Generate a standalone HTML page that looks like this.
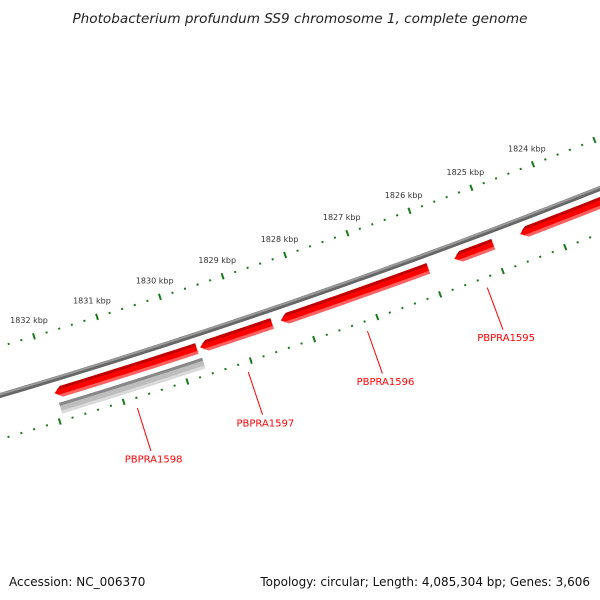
<!DOCTYPE html>
<html><head><meta charset="utf-8"><style>
html,body{margin:0;padding:0;background:#fff;}
svg{display:block;font-family:"DejaVu Sans","Liberation Sans",sans-serif;}
</style></head><body>
<svg id="map" width="600" height="600" viewBox="0 0 600 600" xmlns="http://www.w3.org/2000/svg">
<rect width="600" height="600" fill="#fff"/>
<text x="300" y="23" text-anchor="middle" font-size="13.6" font-style="italic" fill="#222">Photobacterium profundum SS9 chromosome 1, complete genome</text>
<text x="9" y="586" font-size="12" fill="#111">Accession: NC_006370</text>
<text x="590" y="586" text-anchor="end" font-size="12" fill="#111">Topology: circular; Length: 4,085,304 bp; Genes: 3,606</text>
<g id="plot"></g>
</svg>
<script>
const majorTicks = [1832, 1831, 1830, 1829, 1828, 1827, 1826, 1825, 1824];
const tickLabels = ["1832 kbp","1831 kbp","1830 kbp","1829 kbp","1828 kbp","1827 kbp","1826 kbp","1825 kbp","1824 kbp"];
const geneNames = ["PBPRA1598","PBPRA1597","PBPRA1596","PBPRA1595",""];
const geneStarts = [1829712, 1828520, 1826032, 1824992, 1821500];
const geneEnds = [1831952, 1829660, 1828384, 1825616, 1824560];
const grayStarts = [1829680];
const grayEnds = [1831930];

const NS="http://www.w3.org/2000/svg";
const g=document.getElementById('plot');
const CX=-1982, CY=-6318, R=7000;
const TH0=70.97*Math.PI/180, K=9.493e-6, BP0=1828000;
function ang(bp){return TH0+(bp-BP0)*K;}
function pt(bp,r){const a=ang(bp);return [CX+r*Math.cos(a),CY+r*Math.sin(a)];}
function mk(tag,attrs){const e=document.createElementNS(NS,tag);for(const k in attrs)e.setAttribute(k,attrs[k]);g.appendChild(e);return e;}
function arcPts(b1,b2,r,n){const p=[];for(let i=0;i<=n;i++){p.push(pt(b1+(b2-b1)*i/n,r));}return p;}
function ps(p){return p.map(q=>q[0].toFixed(2)+','+q[1].toFixed(2)).join(' ');}

let bb=mk('polyline',{points:ps(arcPts(1834000,1821000,R,60)),fill:'none',stroke:'#666','stroke-width':5});


let bb2=mk('polyline',{points:ps(arcPts(1834000,1821000,R-1.2,60)),fill:'none',stroke:'#999','stroke-width':2});



function ring(r,name){
  for(let bp=1833000;bp>=1821000;bp-=200){
    const major=bp%1000===0;
    const len=major?3.2:1;
    const a=pt(bp,r-len),b=pt(bp,r+len);
    const l=mk('line',{x1:a[0],y1:a[1],x2:b[0],y2:b[1],stroke:'#1a7a1a','stroke-width':2});
    
    
  }
}
ring(R-47,'outer-ring');
ring(R+42,'inner-ring');
majorTicks.forEach((kb,i)=>{
  const p=pt(kb*1000,R-64);
  const t=mk('text',{x:p[0],y:p[1]+3,'text-anchor':'middle','font-size':8,fill:'#333'});
  t.textContent=tickLabels[i];
  
  
});

grayStarts.forEach((s,i)=>{
  const e=grayEnds[i], rc=R+29.5, h=5.5;
  const outer=arcPts(s,e,rc+h,20), inner=arcPts(e,s,rc-h,20);
  const p=mk('polygon',{points:ps(outer.concat(inner)),fill:'#bdbdbd'});
  
  
  const top=mk('polyline',{points:ps(arcPts(s,e,rc-h+1.5,20)),fill:'none',stroke:'#888','stroke-width':3});
  
  
  const bot=mk('polyline',{points:ps(arcPts(s,e,rc+h-1.5,20)),fill:'none',stroke:'#dadada','stroke-width':3});
  
  
});

geneStarts.forEach((s,i)=>{
  const e=geneEnds[i], rc=R+13.5, h=5.5, head=110;
  const body=e-head;
  const outer=arcPts(s,body,rc+h,20), inner=arcPts(body,s,rc-h,20);
  const tip=pt(e,rc);
  const p=mk('polygon',{points:ps(outer.concat([tip]).concat(inner)),fill:'#f00'});
  
  
  const top=mk('polygon',{points:ps(arcPts(s,body,rc-h,20).concat([pt(e-40,rc-2.5)]).concat(arcPts(body,s,rc-h+3,20))),fill:'#c00000'});
  
  
  const bot=mk('polygon',{points:ps(arcPts(s,body,rc+h-3,20).concat([pt(e-40,rc+2.5)]).concat(arcPts(body,s,rc+h,20))),fill:'#ff6060'});
  
  
  if(geneNames[i]){
    const m=(s+e)/2;
    const a=pt(m,7052),b=pt(m,7097);
    const l=mk('line',{x1:a[0],y1:a[1],x2:b[0],y2:b[1],stroke:'#f00','stroke-width':1});
    
    
    const tp=pt(m,7106);
    const t=mk('text',{x:tp[0],y:tp[1]+3,'text-anchor':'middle','font-size':10,fill:'#f00'});
    t.textContent=geneNames[i];
    
    
  }
});
</script>
</body></html>
